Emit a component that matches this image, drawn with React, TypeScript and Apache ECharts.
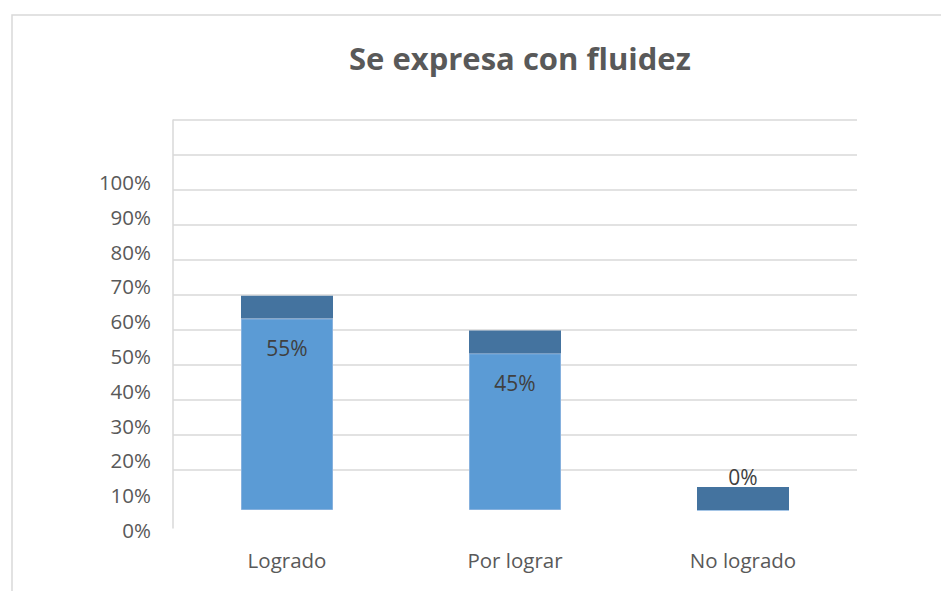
import React, { useEffect, useRef } from "react";
import * as echarts from "echarts";

const titleText = "Se expresa con fluidez";
const categories = ["Logrado", "Por lograr", "No logrado"];
const percentValues = [55, 45, 0];
// 3D depth cap drawn on top of each column (Excel 3D artifact)
const depthValues = [6.6, 6.6, 6.6];
const yTickLabels = ["0%", "10%", "20%", "30%", "40%", "50%", "60%", "70%", "80%", "90%", "100%"];
const gridLineCount = 10;

const FONT = "'Open Sans', 'Liberation Sans', sans-serif";

export default function App() {
  const ref = useRef<HTMLDivElement>(null);

  useEffect(() => {
    if (!ref.current) return;
    const chart = echarts.init(ref.current, undefined, { renderer: "svg" });
    const left = 173;
    const right = 84;
    const hiddenX = (gridIndex: number) => ({
      type: "category" as const,
      gridIndex,
      data: categories,
      show: false,
    });
    const option: any = {
      animation: false,
      backgroundColor: "#ffffff",
      title: {
        text: titleText,
        left: 344,
        top: 37,
        textStyle: {
          fontFamily: FONT,
          fontWeight: "bold",
          fontSize: 31,
          color: "#595959",
        },
      },
      graphic: [
        {
          type: "rect",
          shape: { x: 12, y: 15, width: 960, height: 620 },
          style: { fill: "none", stroke: "#d9d9d9", lineWidth: 1.5 },
          silent: true,
        },
      ],
      grid: [
        // 0: tick labels
        { left, right, top: 182, bottom: 61 },
        // 1: gridlines
        { left, right, top: 120, bottom: 121 },
        // 2: vertical axis line
        { left, right, top: 120, bottom: 63 },
        // 3: bars
        { left, right, top: 162, bottom: 81 },
      ],
      xAxis: [
        hiddenX(0),
        hiddenX(1),
        hiddenX(2),
        {
          type: "category",
          gridIndex: 3,
          data: categories,
          axisLine: { show: false },
          axisTick: { show: false },
          axisLabel: {
            margin: 39,
            fontFamily: FONT,
            fontSize: 20.5,
            color: "#595959",
          },
        },
      ],
      yAxis: [
        {
          type: "value",
          gridIndex: 0,
          min: 0,
          max: 100,
          interval: 10,
          axisLine: { show: false },
          axisTick: { show: false },
          splitLine: { show: false },
          axisLabel: {
            margin: 22,
            fontFamily: FONT,
            fontSize: 20.5,
            color: "#595959",
            formatter: (v: number) => yTickLabels[Math.round(v / 10)] ?? "",
          },
        },
        {
          type: "value",
          gridIndex: 1,
          min: 0,
          max: gridLineCount,
          interval: 1,
          axisLine: { show: false },
          axisTick: { show: false },
          axisLabel: { show: false },
          splitLine: { show: true, lineStyle: { color: "#d9d9d9", width: 1.5 } },
        },
        {
          type: "value",
          gridIndex: 2,
          min: 0,
          max: 1,
          axisLine: { show: true, lineStyle: { color: "#d9d9d9", width: 1.5 } },
          axisTick: { show: false },
          axisLabel: { show: false },
          splitLine: { show: false },
        },
        {
          type: "value",
          gridIndex: 3,
          min: 0,
          max: 100,
          show: false,
        },
      ],
      series: [
        {
          type: "bar",
          name: "valor",
          xAxisIndex: 3,
          yAxisIndex: 3,
          stack: "col",
          barWidth: 92,
          itemStyle: { color: "#5B9BD5", borderColor: "#86b1de", borderWidth: 1 },
          label: {
            show: true,
            position: "insideTop",
            distance: 19,
            fontFamily: FONT,
            fontSize: 21,
            color: "#404040",
            formatter: "{c}%",
          },
          data: percentValues.map((v) =>
            v === 0 ? { value: v, label: { position: "top", distance: 22 } } : v
          ),
        },
        {
          type: "bar",
          name: "profundidad",
          xAxisIndex: 3,
          yAxisIndex: 3,
          stack: "col",
          barWidth: 92,
          itemStyle: { color: "#44739F" },
          data: depthValues,
        },
      ],
    };
    chart.setOption(option);
    return () => chart.dispose();
  }, []);

  return (
    <div
      ref={ref}
      style={{ position: "fixed", left: 0, top: 0, width: 941, height: 591 }}
    />
  );
}
